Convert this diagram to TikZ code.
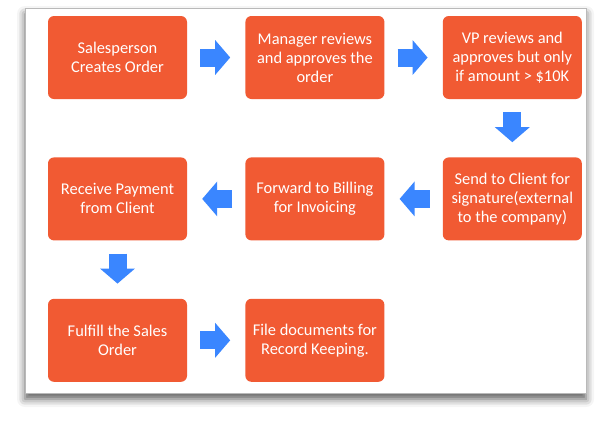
\documentclass[tikz,border=0pt]{standalone}
\usepackage{fontspec}
\setmainfont{Carlito}
\usetikzlibrary{positioning, arrows.meta, shadows.blur}
\definecolor{stepred}{HTML}{F15A33}
\definecolor{flowblue}{HTML}{3A86FF}

\begin{document}
\begin{tikzpicture}[x=1pt,y=1pt,node distance=58pt,
    stepbox/.style={rectangle, rounded corners=6pt, fill=stepred, text=white,
      minimum width=139pt, minimum height=83pt, inner sep=2pt, align=center,
      font=\fontsize{16.4}{19}\selectfont},
    flow/.style={draw=flowblue, line width=18pt,
      -{Triangle[length=15pt,width=34pt]}, shorten <=13pt, shorten >=15pt}]
      \useasboundingbox (0,0) rectangle (600,-421);
      \draw[gray!55, fill=white, blur shadow={shadow xshift=0pt, shadow yshift=-6pt,
        shadow blur radius=8pt, shadow opacity=65}] (25,-8) rectangle (586,-393);

      \node[stepbox] (sales) at (117.5,-57.5) {Salesperson\\Creates Order};
      \node[stepbox] (manager) [right=of sales] {Manager reviews\\and approves the\\order};
      \node[stepbox] (vp) [right=of manager] {VP reviews and\\approves but only\\if amount > \$10K};
      \node[stepbox] (client) [below=of vp] {Send to Client for\\signature(external\\to the company)};
      \node[stepbox] (billing) [left=of client] {Forward to Billing\\for Invoicing};
      \node[stepbox] (payment) [left=of billing] {Receive Payment\\from Client};
      \node[stepbox] (fulfill) [below=of payment] {Fulfill the Sales\\Order};
      \node[stepbox] (filing) [right=of fulfill] {File documents for\\Record Keeping.};

      \draw[flow] (sales) -- (manager);
      \draw[flow] (manager) -- (vp);
      \draw[flow] (vp) -- (client);
      \draw[flow] (client) -- (billing);
      \draw[flow] (billing) -- (payment);
      \draw[flow] (payment) -- (fulfill);
      \draw[flow] (fulfill) -- (filing);
\end{tikzpicture}
\end{document}
